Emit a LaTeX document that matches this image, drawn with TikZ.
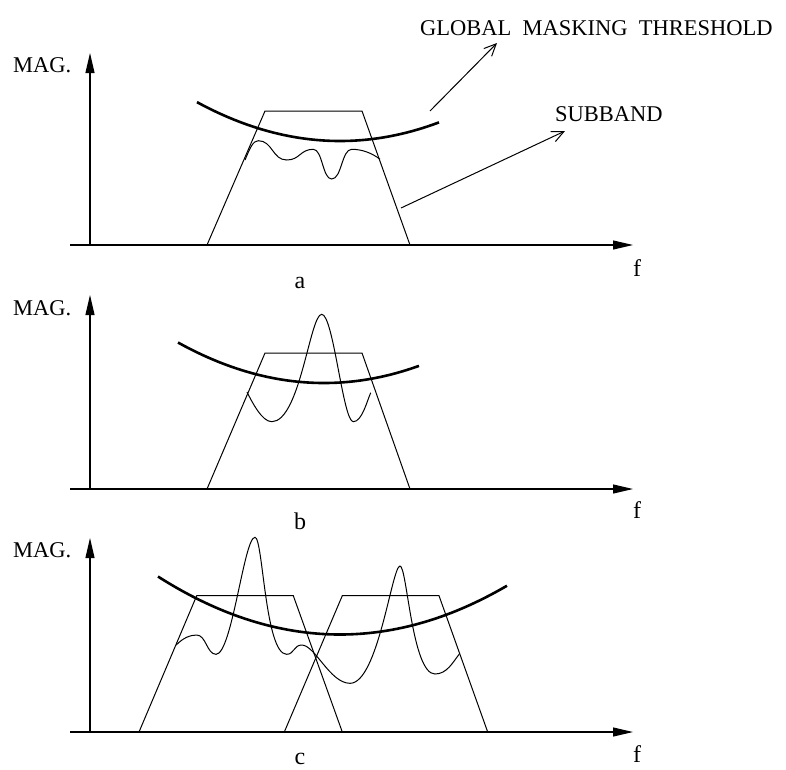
\documentclass[tikz,border=0pt]{standalone}
\usepackage{fontspec}
\setmainfont{Liberation Serif}
\usetikzlibrary{arrows.meta}
\tikzset{
  axis/.style={line width=1.1pt, -{Triangle[length=20pt,width=9pt]}},
  thin/.style={line width=1pt},
  thresh/.style={line width=2.6pt},
  sig/.style={line width=1pt},
  pointer/.style={line width=1pt, -{Straight Barb[length=12pt,width=11pt]}},
  lbl/.style={font=\fontsize{22.5}{27}\selectfont, inner sep=0pt, anchor=base west},
  sublbl/.style={font=\fontsize{24}{28}\selectfont, inner sep=0pt, anchor=base},
}
\begin{document}
\begin{tikzpicture}[x=1pt,y=-1pt]
\useasboundingbox (0,0) rectangle (786,769);

% ---------------- panel a ----------------
\coordinate (oa) at (90,245);
\coordinate (ya) at (90,53);
\coordinate (xa0) at (70,245);
\coordinate (xa) at (633,245);
\draw[axis] (oa) -- (ya);
\draw[axis] (xa0) -- (xa);
\node[lbl] (maga) at (13,72) {MAG.};
\node[sublbl] (fa) at (637,276) {f};
\node[sublbl] (la) at (300,288) {a};
\draw[thin] (207,245) -- (265,111) -- (362,111) -- (410,245);
\draw[thresh] plot[domain=197:439,samples=80] (\x,{141-19*((\x-340)/100)^2});
\draw[sig] (245,160) .. controls (250,148) and (253,140.7) .. (258.3,140.7)
  .. controls (272.5,140.7) and (272.5,160) .. (286.7,160)
  .. controls (300,160) and (300,149.3) .. (313.3,149.3)
  .. controls (322.5,149.3) and (322.5,179) .. (331.7,179)
  .. controls (341.7,179) and (341.7,149.3) .. (351.7,149.3)
  .. controls (362,149.3) and (372,153) .. (380,159.3);
\node[lbl] (glob) at (420,35) {GLOBAL\ \ MASKING\ \ THRESHOLD};
\node[lbl] (sub) at (555,121) {SUBBAND};
\coordinate (globs) at (430,111);
\coordinate (globe) at (497,43);
\coordinate (subs) at (401,208);
\coordinate (sube) at (565,131);
\draw[pointer] (globs) -- (globe);
\draw[pointer] (subs) -- (sube);

% ---------------- panel b ----------------
\coordinate (ob) at (90,489);
\coordinate (yb) at (90,295);
\coordinate (xb0) at (70,489);
\coordinate (xb) at (633,489);
\draw[axis] (ob) -- (yb);
\draw[axis] (xb0) -- (xb);
\node[lbl] (magb) at (13,315) {MAG.};
\node[sublbl] (fb) at (637,518) {f};
\node[sublbl] (lb) at (300,529) {b};
\draw[thin] (207,489) -- (265,353) -- (362,353) -- (410,489);
\draw[thresh] plot[domain=178:419,samples=80] (\x,{383-19*((\x-324)/100)^2});
\draw[sig] (247,392) .. controls (252,402) and (262,421.7) .. (271.7,421.7)
  .. controls (300,421.7) and (310,314.3) .. (321.7,314.3)
  .. controls (333.4,314.3) and (343,421.7) .. (353.3,421.7)
  .. controls (362,421.7) and (367,401) .. (370.7,392.7);

% ---------------- panel c ----------------
\coordinate (oc) at (90,732);
\coordinate (yc) at (90,538);
\coordinate (xc0) at (70,732);
\coordinate (xc) at (633,732);
\draw[axis] (oc) -- (yc);
\draw[axis] (xc0) -- (xc);
\node[lbl] (magc) at (13,557) {MAG.};
\node[sublbl] (fc) at (637,762) {f};
\node[sublbl] (lc) at (300,764) {c};
\draw[thin] (139,732) -- (196.7,595.7) -- (293.3,595.7) -- (342.3,732);
\draw[thin] (284.3,732) -- (342.3,595.7) -- (439,595.7) -- (487.7,732);
\draw[thresh] plot[domain=158:507,samples=100] (\x,{634.5-17.5*((\x-340)/100)^2});
\draw[sig] (176.2,645) .. controls (183,638) and (190,635) .. (196.7,635)
  .. controls (206,635) and (207,654.3) .. (216,654.3)
  .. controls (232,654.3) and (244,537.3) .. (255,537.3)
  .. controls (263,537.3) and (265,654.3) .. (286.7,654.3)
  .. controls (294,654.3) and (294,645) .. (301.7,645)
  .. controls (315,645) and (330,683.3) .. (350,683.3)
  .. controls (378,683.3) and (392,566) .. (400,566)
  .. controls (407,566) and (412,674) .. (435,674)
  .. controls (447,674) and (453,662) .. (459.3,654);
\end{tikzpicture}
\end{document}
